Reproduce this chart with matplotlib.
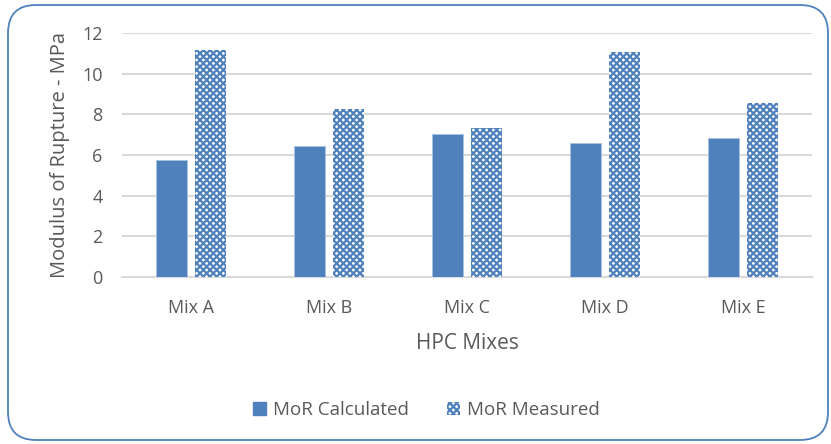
import matplotlib.pyplot as plt
import numpy as np
from matplotlib.patches import FancyBboxPatch, Patch
from matplotlib import rcParams

rcParams.update({
    "font.family": ["Open Sans", "DejaVu Sans"],
    "hatch.linewidth": 1.6,
})

mixes = ['Mix A', 'Mix B', 'Mix C', 'Mix D', 'Mix E']
mor_calculated = [5.75, 6.45, 7.02, 6.57, 6.82]
mor_measured = [11.17, 8.25, 7.31, 11.05, 8.54]

blue = '#4F81BD'
grey_text = '#595959'

fig = plt.figure(figsize=(8.31, 4.44), dpi=100)
ax = fig.add_axes([0.1468, 0.376, 0.8302, 0.5497])

x = np.arange(len(mixes))
w = 0.225
gap = 0.058
ax.bar(x - (w + gap) / 2, mor_calculated, width=w, color=blue,
       edgecolor='#A9C1E0', linewidth=0.6, zorder=3, label='MoR Calculated')
ax.bar(x + (w + gap) / 2, mor_measured, width=w, color='white',
       edgecolor=blue, linewidth=0, hatch='xxxxx', zorder=3, label='MoR Measured')

ax.set_xlim(-0.5, len(mixes) - 0.5)
ax.set_ylim(0, 12)
ax.set_yticks(range(0, 13, 2))
ax.set_xticks(x)
ax.set_xticklabels(mixes)
ax.tick_params(length=0, labelsize=13, colors=grey_text)
ax.tick_params(axis='x', pad=16)
ax.tick_params(axis='y', pad=14)
for s in ['top', 'right', 'left']:
    ax.spines[s].set_visible(False)
ax.spines['bottom'].set_color('#D9D9D9')
ax.spines['bottom'].set_linewidth(1.5)
ax.grid(axis='y', color='#D9D9D9', linewidth=1.5, zorder=0)
ax.set_axisbelow(True)

ax.set_xlabel('HPC Mixes', fontsize=15, color=grey_text, labelpad=11)
ax.set_ylabel('Modulus of Rupture - MPa', fontsize=14.5, color=grey_text, labelpad=9)

handles = [Patch(facecolor=blue, edgecolor=blue, label='MoR Calculated'),
           Patch(facecolor='white', edgecolor=blue, hatch='xxxxx', linewidth=0,
                 label='MoR Measured')]
fig.legend(handles=handles, loc='center', bbox_to_anchor=(0.513, 0.076), ncol=2,
           frameon=False, fontsize=13.5, labelcolor=grey_text, handlelength=0.7,
           handleheight=0.7, handletextpad=0.4, columnspacing=2.0)

# rounded chart border
border = FancyBboxPatch((0.33, 0.29), 7.7, 3.85, boxstyle='round,pad=0.25,rounding_size=0.28',
                        transform=fig.dpi_scale_trans, facecolor='none',
                        edgecolor=blue, linewidth=1.3)
fig.patches.append(border)

plt.savefig('out.png', dpi=100)
